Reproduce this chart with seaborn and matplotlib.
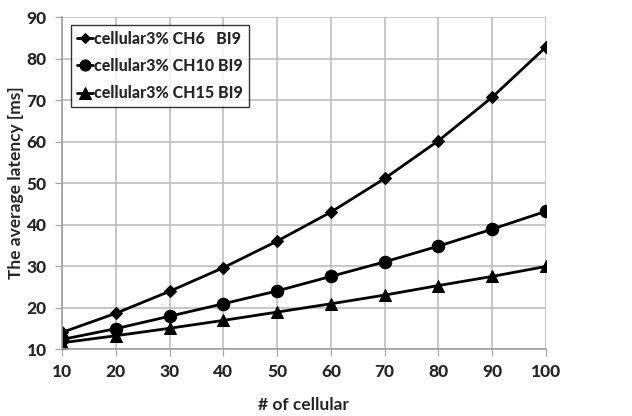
import matplotlib
matplotlib.use('Agg')
import matplotlib.pyplot as plt
import seaborn as sns
import pandas as pd

# values
cellular = [10, 20, 30, 40, 50, 60, 70, 80, 90, 100]
ch6 = [14.0, 18.6, 23.9, 29.6, 36.0, 43.0, 51.1, 60.2, 70.7, 82.8]
ch10 = [12.3, 14.9, 17.9, 20.9, 24.0, 27.5, 31.0, 34.8, 38.9, 43.2]
ch15 = [11.5, 13.2, 15.0, 16.9, 18.9, 20.9, 23.0, 25.3, 27.5, 29.9]
labels = ['cellular3% CH6   BI9', 'cellular3% CH10 BI9', 'cellular3% CH15 BI9']
y_ticks = [10, 20, 30, 40, 50, 60, 70, 80, 90]

df = pd.DataFrame({'cellular': cellular * 3,
                   'latency': ch6 + ch10 + ch15,
                   'series': [labels[0]] * 10 + [labels[1]] * 10 + [labels[2]] * 10})

sns.set_style('white')
plt.rcParams['font.family'] = ['Lato', 'DejaVu Sans']
plt.rcParams['font.weight'] = 'bold'

fig = plt.figure(figsize=(6.32, 4.16), dpi=100)
ax = fig.add_axes([0.098, 0.161, 0.766, 0.798])

sns.lineplot(data=df, x='cellular', y='latency', hue='series', style='series',
             markers=['D', 'o', '^'], dashes=False,
             palette=['black', 'black', 'black'], linewidth=2,
             markersize=8, markeredgecolor='black', ax=ax)
for line, ms in zip(ax.lines, [6, 9, 9]):
    line.set_markersize(ms)

ax.set_xlim(10, 100)
ax.set_ylim(10, 90)
ax.set_xticks(cellular)
ax.set_yticks(y_ticks)
ax.grid(True, color='#bdbdbd', linewidth=1.2)
ax.set_axisbelow(True)
for s in ['top', 'right']:
    ax.spines[s].set_visible(False)
for s in ['left', 'bottom']:
    ax.spines[s].set_color('#a0a0a0')
    ax.spines[s].set_linewidth(1.2)
ax.tick_params(axis='both', labelsize=12.5, length=5, color='#a0a0a0',
               direction='out', left=True, bottom=True, pad=6)
for t in ax.get_xticklabels() + ax.get_yticklabels():
    t.set_fontweight('black')
ax.set_xlabel('# of cellular', fontsize=12.5, fontweight='bold', labelpad=12)
ax.set_ylabel('The average latency [ms]', fontsize=12.5, fontweight='bold', labelpad=2)

leg = ax.legend(loc='upper left', bbox_to_anchor=(0.012, 0.985), frameon=True,
                fancybox=False, edgecolor='black', fontsize=11.5,
                handlelength=1.0, handletextpad=0.1, borderpad=0.35,
                borderaxespad=0.2, labelspacing=0.7, title=None)
leg.get_frame().set_linewidth(1.0)
for t in leg.get_texts():
    t.set_fontweight('black')
for h, ms in zip(leg.legend_handles, [5, 8, 8]):
    h.set_markersize(ms)

fig.savefig('out.png', dpi=100)
